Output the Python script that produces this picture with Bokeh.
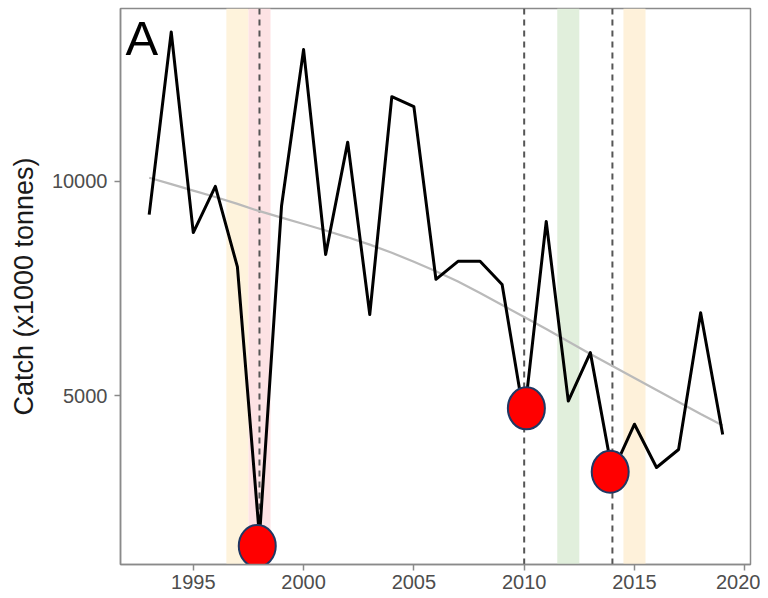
from bokeh.plotting import figure
from bokeh.models import Range1d, BoxAnnotation, Span, FixedTicker, Label, ColumnDataSource
from bokeh.embed import file_html
from bokeh.resources import INLINE

# ---- data ----
years = list(range(1993, 2020))
catch = [9220, 13480, 8800, 9880, 8000, 1700, 9420, 13070, 8290, 10910,
         6890, 11970, 11740, 7710, 8130, 8130, 7590, 4500, 9060, 4870,
         6000, 3200, 4330, 3320, 3740, 6930, 4090]
smooth = [10080, 9930, 9780, 9630, 9470, 9300, 9150, 9000, 8850, 8690,
          8520, 8330, 8120, 7900, 7660, 7390, 7110, 6830, 6550, 6260,
          5970, 5690, 5410, 5130, 4850, 4570, 4300]
event_years = [1998, 2010, 2014]
marker_years = [1997.9, 2010.1, 2013.9]
marker_vals = [1490, 4700, 3220]
bands = [(1996.5, 1997.5, "#FEF3DC"), (1997.5, 1998.5, "#FDE2E4"),
         (2011.5, 2012.5, "#E1EFDC"), (2014.5, 2015.5, "#FEF1DA")]
x_ticks = [1995, 2000, 2005, 2010, 2015, 2020]
y_ticks = [5000, 10000]

FONT = "Liberation Sans"
AX = "#8a8a8a"

p = figure(frame_width=630, frame_height=556, output_backend="svg",
           toolbar_location=None,
           x_range=Range1d(1991.70, 2020.26), y_range=Range1d(1058, 14028),
           min_border_left=120, min_border_right=10, min_border_top=8,
           min_border_bottom=30)
p.background_fill_color = "white"
p.border_fill_color = "white"
p.outline_line_color = AX
p.outline_line_width = 1.5
p.xgrid.visible = False
p.ygrid.visible = False

for l, r, c in bands:
    p.add_layout(BoxAnnotation(left=l, right=r, fill_color=c, fill_alpha=1,
                               line_color=None, level="underlay"))
for yv in event_years:
    p.add_layout(Span(location=yv, dimension="height", line_color="#555555",
                      line_width=2, line_dash="6 5", level="underlay"))

src = ColumnDataSource(dict(year=years, catch=catch, smooth=smooth))
p.line("year", "smooth", source=src, line_color="#BABABA", line_width=2.2)
p.line("year", "catch", source=src, line_color="black", line_width=3,
       line_join="round")

msrc = ColumnDataSource(dict(x=marker_years, y=marker_vals))
p.ellipse(x="x", y="y", width=37, height=42, width_units="screen",
          height_units="screen", source=msrc, fill_color="#FF0000",
          line_color="#1F3864", line_width=2)

p.add_layout(Label(x=1991.93, y=13330, text="A", text_font=FONT,
                   text_font_size="49px", text_color="black",
                   text_baseline="alphabetic"))

p.xaxis.ticker = FixedTicker(ticks=x_ticks)
p.yaxis.ticker = FixedTicker(ticks=y_ticks)
for ax in (p.xaxis, p.yaxis):
    ax.axis_line_color = AX
    ax.axis_line_width = 1.5
    ax.major_tick_line_color = AX
    ax.major_tick_line_width = 1.5
    ax.major_tick_out = 6
    ax.major_tick_in = 0
    ax.minor_tick_line_color = None
    ax.major_label_text_font = FONT
    ax.major_label_text_font_size = "20px"
    ax.major_label_text_color = "#4D4D4D"
p.xaxis.major_label_standoff = 4
p.yaxis.major_label_standoff = 7
p.yaxis.axis_label = "Catch (x1000 tonnes)"
p.yaxis.axis_label_text_font = FONT
p.yaxis.axis_label_text_font_size = "27px"
p.yaxis.axis_label_text_font_style = "normal"
p.yaxis.axis_label_text_color = "#1a1a1a"
p.yaxis.axis_label_standoff = 10

open("out.html", "w").write(file_html(p, INLINE))
